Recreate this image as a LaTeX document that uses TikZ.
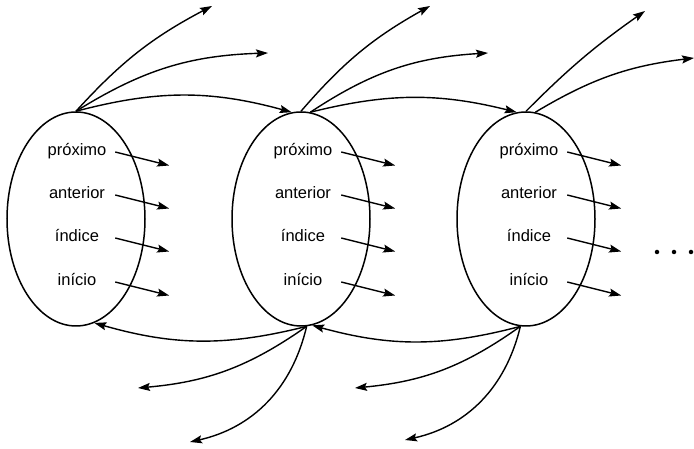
\documentclass[tikz,border=0pt]{standalone}
\usepackage{fontspec}
\setmainfont{Liberation Sans}
\usetikzlibrary{arrows.meta,shapes.geometric}
\begin{document}
\begin{tikzpicture}[x=1pt,y=1pt,
  every node/.style={font=\fontsize{16.5}{19}\selectfont},
  cell/.style={draw, ellipse, line width=1.5pt, minimum width=138pt, minimum height=214pt, inner sep=0pt},
  field/.style={minimum width=76pt, inner sep=0pt, text height=11pt, text depth=3pt, align=center},
  arr/.style={line width=1.4pt, -{Stealth[length=12pt,width=8pt,inset=2pt]}},
  dot/.style={circle, fill, inner sep=0pt, minimum size=4.5pt}]
\useasboundingbox (0,0) rectangle (694,449);
% cells
\node[cell] (e1) at (76,230) {};
\node[cell] (e2) at (301,230) {};
\node[cell] (e3) at (526,230) {};
% fields and their pointers
\foreach \i/\x in {1/77,2/303,3/529} {
  \node[field] (p\i) at (\x,297) {próximo};
  \node[field] (a\i) at (\x,254) {anterior};
  \node[field] (d\i) at (\x,211) {índice};
  \node[field] (s\i) at (\x,167) {início};
  \foreach \f in {p,a,d,s} {
    \coordinate (\f\i-t) at ([shift={(54,-13.5)}]\f\i.east);
    \draw[arr] (\f\i.east) -- (\f\i-t);
  }
}
% free ends on top
\coordinate (u1a) at (212,443);
\coordinate (u1b) at (268,396);
\coordinate (u2a) at (430,443);
\coordinate (u2b) at (488,396);
\coordinate (u3a) at (645,438);
\coordinate (u3b) at (694,391);
% free ends below
\coordinate (b2a) at (138,61);
\coordinate (b2b) at (190,7);
\coordinate (b3a) at (355,61);
\coordinate (b3b) at (405,9);
% top connectors
\draw[arr] (e1.north) to[bend left=10] (u1a);
\draw[arr] (e1.north) to[bend left=15] (u1b);
\draw[arr] (e1.north) to[bend left=15] (e2.95);
\draw[arr] (e2.north) to[bend left=10] (u2a);
\draw[arr] (e2.85) to[bend left=15] (u2b);
\draw[arr] (e2.85) to[bend left=14] (e3.95);
\draw[arr] (e3.north) to[bend left=5] (u3a);
\draw[arr] (e3.85) to[bend left=12] (u3b);
% bottom connectors
\draw[arr] (e2.-87) to[bend left=15] (e1.-80);
\draw[arr] (e2.-87) to[bend left=15] (b2a);
\draw[arr] (e2.-87) to[bend left=32] (b2b);
\draw[arr] (e3.-93) to[bend left=15] (e2.-84);
\draw[arr] (e3.-93) to[bend left=15] (b3a);
\draw[arr] (e3.-93) to[bend left=32] (b3b);
% continuation dots
\node[dot] (c1) at (657,197) {};
\node[dot] (c2) at (674,197) {};
\node[dot] (c3) at (691,197) {};
\end{tikzpicture}
\end{document}
